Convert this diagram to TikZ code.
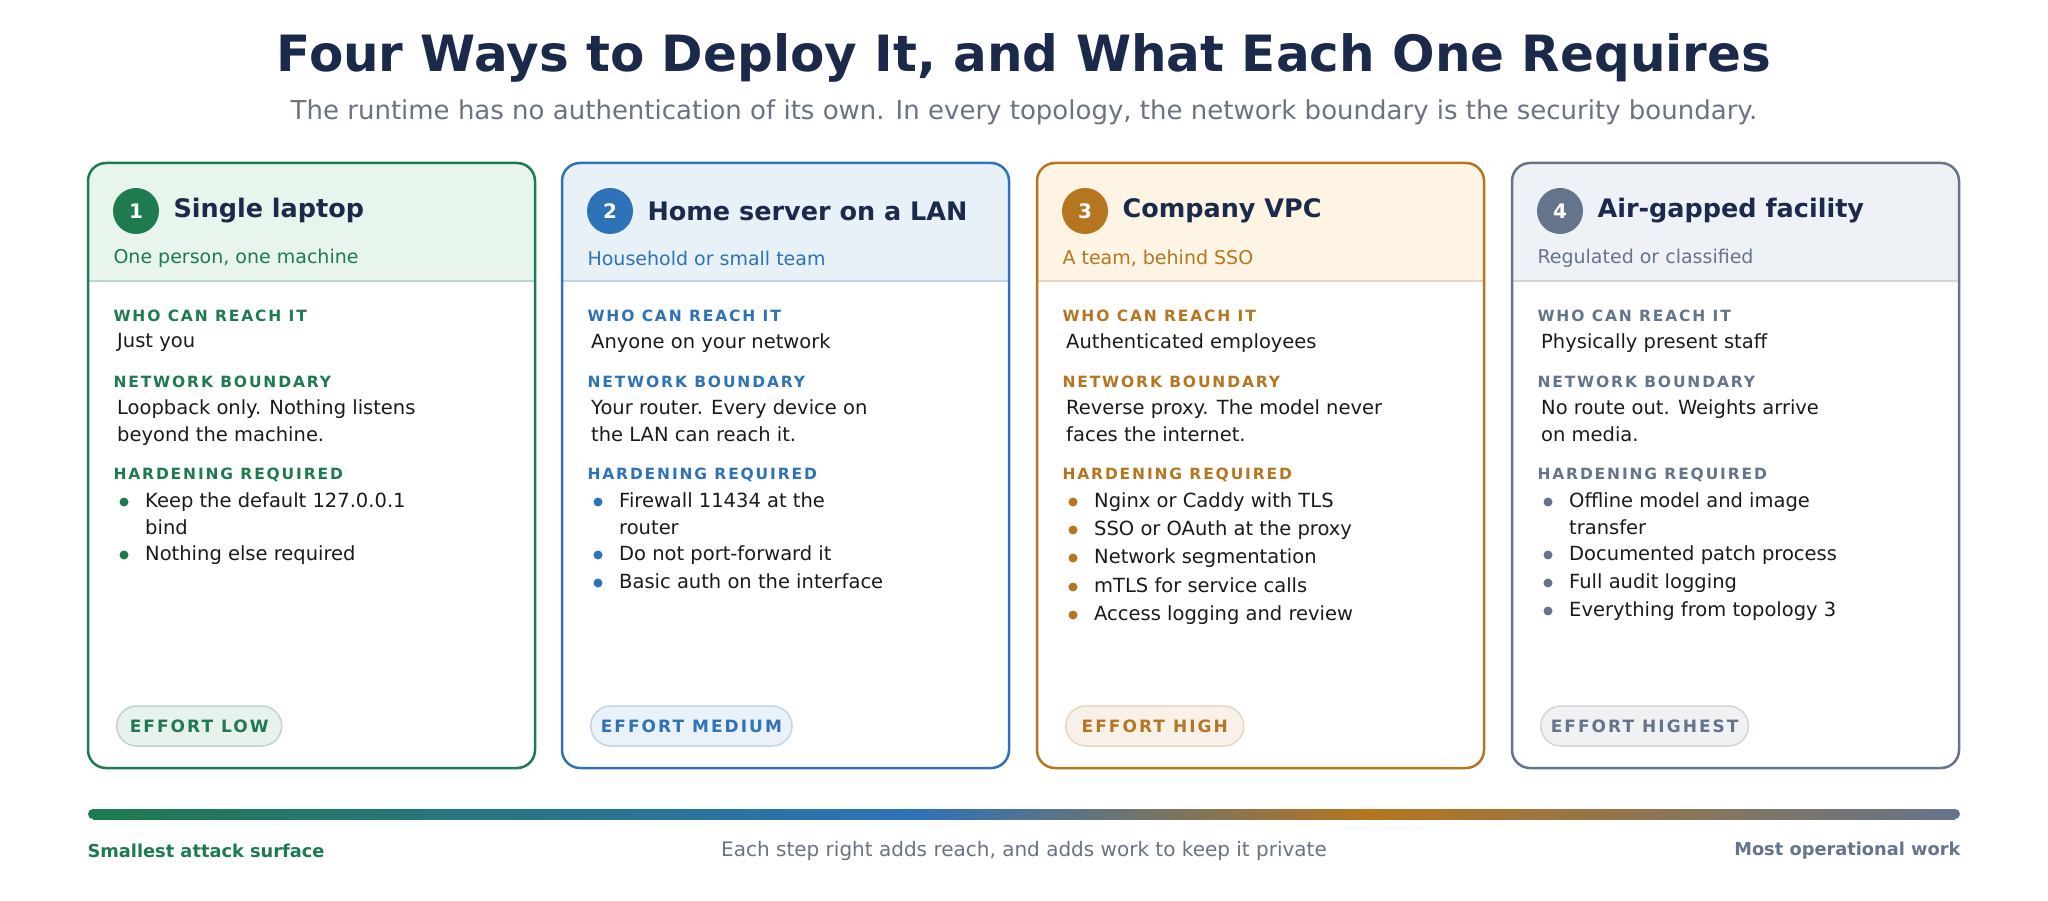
\documentclass[tikz,border=0pt]{standalone}
\usepackage{fontspec}
\setmainfont{DejaVu Sans}
\definecolor{ttl}{HTML}{1B2A4A}
\definecolor{gry}{HTML}{6B7280}
\definecolor{txt}{HTML}{1A1A1A}
\definecolor{cA}{HTML}{1E7A4F}\definecolor{fA}{HTML}{E8F5EC}
\definecolor{cB}{HTML}{2E72B8}\definecolor{fB}{HTML}{E8F0F8}
\definecolor{cC}{HTML}{B5761F}\definecolor{fC}{HTML}{FDF4E4}
\definecolor{cD}{HTML}{64748B}\definecolor{fD}{HTML}{EEF2F7}
\newcommand\lab[1]{{\addfontfeatures{LetterSpace=12}\bfseries #1}}
\newcommand\mkcard[6]{%
 \fill[#3,rounded corners=18pt] (#1,163) rectangle ++(447,118);
 \fill[#3] (#1,240) rectangle ++(447,41);
 \draw[#2!30,line width=2pt] (#1,281) -- ++(447,0);
 \draw[#2,line width=2.5pt,rounded corners=18pt] (#1,163) rectangle ++(447,605);
 \node[circle,fill=#2,minimum size=46pt,text=white,font=\fontsize{20}{20}\selectfont\bfseries] (n#4) at (#1+48,211) {#4};
 \node[anchor=west,text=ttl,font=\fontsize{25.5}{25.5}\selectfont\bfseries] (t#4) at (#1+82,211) {#5};
 \node[anchor=west,text=#2,font=\fontsize{19}{19}\selectfont] (s#4) at (#1+22,258) {#6};
}
\tikzset{sec/.style={anchor=west,font=\fontsize{15.5}{15.5}\selectfont},
 bod/.style={anchor=north west,text=txt,font=\fontsize{19.5}{27.5}\selectfont,align=left,inner sep=0pt},
 pill/.style={draw=#1!30,line width=1.5pt,fill=#1!10,rounded corners=20pt,minimum height=40pt,text=#1,font=\fontsize{17}{17}\selectfont,anchor=west,inner xsep=10pt}}
\newcommand\bul[4]{\fill[#1] (#2+36,#3) circle (4.5pt); \node[bod] at (#2+57,#3-10) {#4};}
\begin{document}
\begin{tikzpicture}[x=1pt,y=-1pt]
\useasboundingbox (0,0) rectangle (2048,901);
\node[text=ttl,font=\fontsize{50}{50}\selectfont\bfseries] (title) at (1024,58) {Four Ways to Deploy It, and What Each One Requires};
\node[text=gry,font=\fontsize{26}{26}\selectfont] (sub) at (1024,112) {The runtime has no authentication of its own. In every topology, the network boundary is the security boundary.};
\mkcard{88}{cA}{fA}{1}{Single laptop}{One person, one machine}
\mkcard{562}{cB}{fB}{2}{Home server on a LAN}{Household or small team}
\mkcard{1037}{cC}{fC}{3}{Company VPC}{A team, behind SSO}
\mkcard{1512}{cD}{fD}{4}{Air-gapped facility}{Regulated or classified}
\foreach \x/\c in {88/cA,562/cB,1037/cC,1512/cD}{
 \node[sec,text=\c] at (\x+22,316) {\lab{WHO CAN REACH IT}};
 \node[sec,text=\c] at (\x+22,382) {\lab{NETWORK BOUNDARY}};
 \node[sec,text=\c] at (\x+22,475) {\lab{HARDENING REQUIRED}};
}
\node[bod] at (117,333) {Just you};
\node[bod] at (117,399) {Loopback only. Nothing listens\\beyond the machine.};
\bul{cA}{88}{502}{Keep the default 127.0.0.1\\bind}
\bul{cA}{88}{555}{Nothing else required}
\node[bod] at (591,333) {Anyone on your network};
\node[bod] at (591,399) {Your router. Every device on\\the LAN can reach it.};
\bul{cB}{562}{502}{Firewall 11434 at the\\router}
\bul{cB}{562}{555}{Do not port-forward it}
\bul{cB}{562}{583}{Basic auth on the interface}
\node[bod] at (1066,333) {Authenticated employees};
\node[bod] at (1066,399) {Reverse proxy. The model never\\faces the internet.};
\bul{cC}{1037}{502}{Nginx or Caddy with TLS}
\bul{cC}{1037}{530}{SSO or OAuth at the proxy}
\bul{cC}{1037}{558}{Network segmentation}
\bul{cC}{1037}{587}{mTLS for service calls}
\bul{cC}{1037}{615}{Access logging and review}
\node[bod] at (1541,333) {Physically present staff};
\node[bod] at (1541,399) {No route out. Weights arrive\\on media.};
\bul{cD}{1512}{502}{Offline model and image\\transfer}
\bul{cD}{1512}{555}{Documented patch process}
\bul{cD}{1512}{583}{Full audit logging}
\bul{cD}{1512}{611}{Everything from topology 3}
\node[pill=cA,minimum width=165pt] (pA) at (116,726) {\lab{EFFORT LOW}};
\node[pill=cB,minimum width=165pt] (pB) at (590,726) {\lab{EFFORT MEDIUM}};
\node[pill=cC,minimum width=178pt] (pC) at (1065,726) {\lab{EFFORT HIGH}};
\node[pill=cD,minimum width=178pt] (pD) at (1540,726) {\lab{EFFORT HIGHEST}};
\fill[cA] (93,814) circle (5pt);
\fill[cD] (1955,814) circle (5pt);
\shade[left color=cA,right color=cB] (93,809) rectangle (915,819);
\shade[left color=cB,right color=cC] (914,809) rectangle (1372,819);
\shade[left color=cC,right color=cD] (1371,809) rectangle (1955,819);
\node[anchor=west,text=cA,font=\fontsize{17.8}{17.8}\selectfont\bfseries] (l1) at (84,851) {Smallest attack surface};
\node[text=gry,font=\fontsize{20}{20}\selectfont] (l2) at (1024,851) {Each step right adds reach, and adds work to keep it private};
\node[anchor=east,text=cD,font=\fontsize{17.8}{17.8}\selectfont\bfseries] (l3) at (1964,851) {Most operational work};
\end{tikzpicture}
\end{document}
